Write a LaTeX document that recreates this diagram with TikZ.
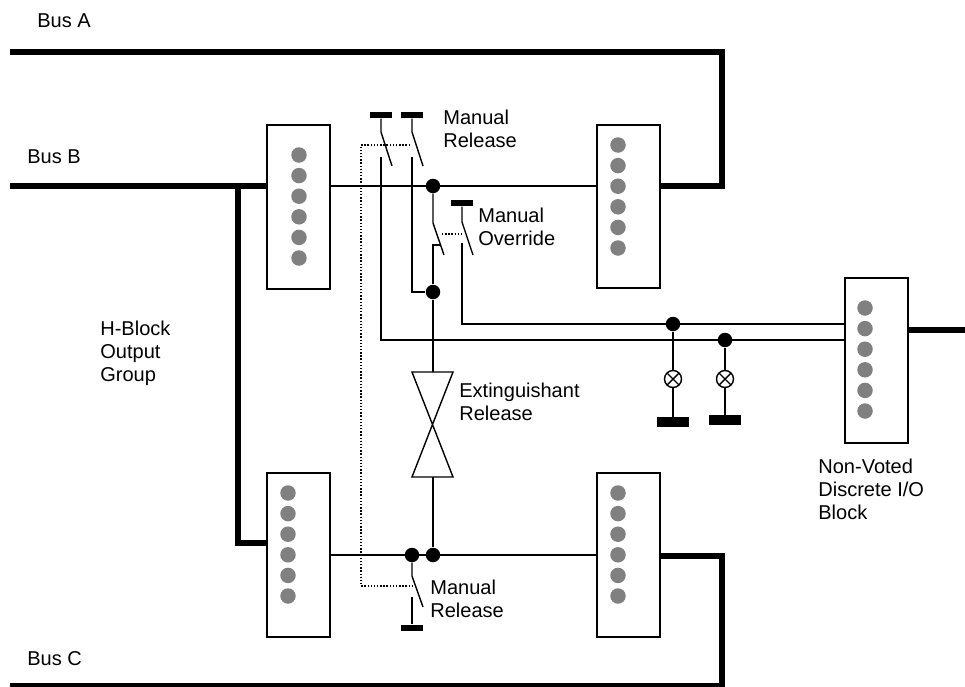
\documentclass[tikz,border=0pt]{standalone}
\usepackage{fontspec}
\setmainfont{Liberation Sans}

\tikzset{
  wire/.style={line width=0.8pt},
  bus/.style={line width=3pt},
  link/.style={line width=0.8pt, densely dotted},
  iobox/.style={draw, line width=0.9pt, minimum width=1.26cm, inner sep=0pt},
  led/.style={circle, fill=gray, minimum size=0.31cm, inner sep=0pt},
  jdot/.style={circle, fill=black, minimum size=0.29cm, inner sep=0pt},
  pbar/.style={fill=black, minimum width=0.44cm, minimum height=0.13cm, inner sep=0pt},
  gbar/.style={fill=black, minimum width=0.66cm, minimum height=0.2cm, inner sep=0pt},
  lamp/.style={circle, draw, line width=0.8pt, minimum size=0.34cm, inner sep=0pt,
    path picture={\draw[line width=0.8pt] (path picture bounding box.north west) -- (path picture bounding box.south east)
      (path picture bounding box.north east) -- (path picture bounding box.south west);}},
  lbl/.style={anchor=base west, align=left, inner sep=0pt}
}

\begin{document}
\begin{tikzpicture}[x=0.02cm, y=-0.02cm, font=\fontsize{11.4}{13}\selectfont]
\useasboundingbox (0,0) rectangle (965,687);

% texts (base = last line)
\node[lbl] (busA) at (37,27) {Bus A};
\node[lbl] (busB) at (27,163) {Bus B};
\node[lbl] (busC) at (27,665) {Bus C};
\node[lbl] (hblk) at (100,381) {H-Block\\Output\\Group};
\node[lbl] (mrel1) at (443,147) {Manual\\Release};
\node[lbl] (movr) at (478,245) {Manual\\Override};
\node[lbl] (extr) at (459,420) {Extinguishant\\Release};
\node[lbl] (mrel2) at (430,617) {Manual\\Release};
\node[lbl] (nvio) at (818,519) {Non-Voted\\Discrete I/O\\Block};

% I/O blocks
\node[iobox, minimum height=3.28cm] (b1) at (298.5,207) {};
\node[iobox, minimum height=3.26cm] (b2) at (628.5,206.5) {};
\node[iobox, minimum height=3.28cm] (b3) at (298.5,555) {};
\node[iobox, minimum height=3.28cm] (b4) at (628.5,555) {};
\node[iobox, minimum height=3.30cm] (b5) at (876.5,360.5) {};

\foreach \bx/\by [count=\k] in {299/155, 618/145, 288/493, 618/493, 865/308}
  \foreach \i in {0,...,5}
    \node[led] (led\k\i) at (\bx,\by+20.6*\i) {};

% junctions
\node[jdot] (j1) at (433,186) {};
\node[jdot] (j2) at (433,292) {};
\node[jdot] (j3) at (433,555) {};
\node[jdot] (j4) at (412,555) {};
\node[jdot] (j5) at (673,324) {};
\node[jdot] (j6) at (725,340) {};

% push buttons
\node[pbar] (p1) at (381,115) {};
\node[pbar] (p2) at (412,115) {};
\node[pbar] (p3) at (462,203) {};
\node[pbar] (p4) at (412,628) {};

% lamps
\node[lamp] (l1) at (673,379) {};
\node[lamp] (l2) at (725,379) {};
\node[gbar] (g1) at (673,422) {};
\node[gbar] (g2) at (725,420) {};

% bus corners
\coordinate (a0) at (10,52);
\coordinate (a1) at (722,52);
\coordinate (a2) at (722,186);
\coordinate (bb0) at (10,186);
\coordinate (bb1) at (238,186);
\coordinate (bb2) at (238,543);
\coordinate (c0) at (10,686);
\coordinate (c1) at (722,686);
\coordinate (c2) at (722,556);
\coordinate (d0) at (965,330);

% switch contacts
\coordinate (s1a) at (381,132);
\coordinate (s1b) at (392,166);
\coordinate (s1c) at (381,157);
\coordinate (s1d) at (381,340);
\coordinate (s2a) at (412,132);
\coordinate (s2b) at (423,166);
\coordinate (s2c) at (412,157);
\coordinate (s2d) at (412,292);
\coordinate (s3a) at (433,223);
\coordinate (s3b) at (444,255);
\coordinate (s3c) at (440,245);
\coordinate (s3d) at (433,245);
\coordinate (s4a) at (462,222);
\coordinate (s4b) at (473,255);
\coordinate (s4c) at (462,243);
\coordinate (s4d) at (462,324);
\coordinate (s5a) at (412,576);
\coordinate (s5b) at (423,607);
\coordinate (s5c) at (412,597);

% valve
\coordinate (v1) at (412,372);
\coordinate (v2) at (453,372);
\coordinate (v3) at (412,477);
\coordinate (v4) at (453,477);

% linkage
\coordinate (k1) at (361,145);
\coordinate (k2) at (410,145);
\coordinate (k3) at (361,586);
\coordinate (k4) at (413,586);
\coordinate (k5) at (442,234);
\coordinate (k6) at (464,234);

\draw[bus] (a0) -- (a1) -- (a2) -- (a2 -| b2.east);
\draw[bus] (bb0) -- (bb0 -| b1.west);
\draw[bus] (bb1) -- (bb2) -- (bb2 -| b3.west);
\draw[bus] (c0) -- (c1) -- (c2) -- (c2 -| b4.east);
\draw[bus] (b5.east |- d0) -- (d0);

\draw[wire] (b1.east |- j1) -- (b2.west |- j1);
\draw[wire] (b3.east |- j3) -- (b4.west |- j3);
\draw[wire] (p1) -- (s1a) -- (s1b);
\draw[wire] (s1c) -- (s1d) -- (s1d -| b5.west);
\draw[wire] (p2) -- (s2a) -- (s2b);
\draw[wire] (s2c) -- (s2d) -- (j2);
\draw[wire] (j1) -- (s3a) -- (s3b);
\draw[wire] (s3c) -- (s3d) -- (j2);
\draw[wire] (p3) -- (s4a) -- (s4b);
\draw[wire] (s4c) -- (s4d) -- (s4d -| b5.west);
\draw[wire] (j2) -- (j2 |- v1);
\draw[wire] (v1) -- (v2) -- (v3) -- (v4) -- cycle;
\draw[wire] (j3 |- v3) -- (j3);
\draw[wire] (j4) -- (s5a) -- (s5b);
\draw[wire] (s5c) -- (p4);
\draw[wire] (j5) -- (l1) -- (g1);
\draw[wire] (j6) -- (l2) -- (g2);
\draw[link] (k2) -- (k1) -- (k3) -- (k4);
\draw[link] (k5) -- (k6);
\end{tikzpicture}
\end{document}
